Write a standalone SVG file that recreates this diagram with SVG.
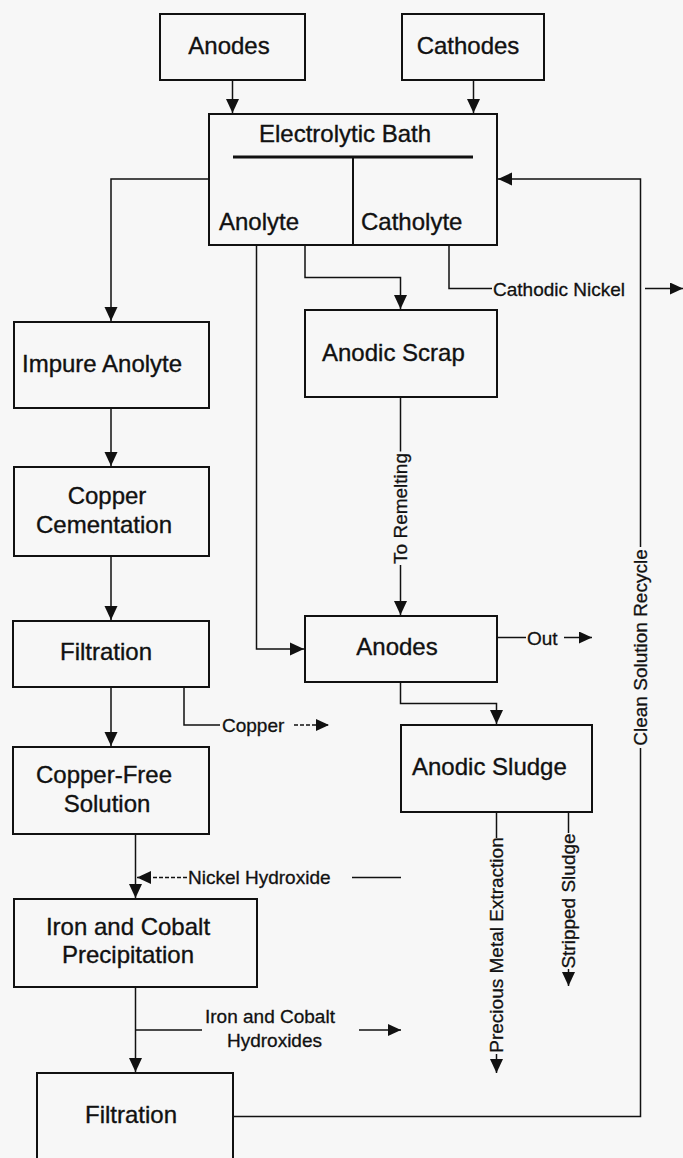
<svg xmlns="http://www.w3.org/2000/svg" width="683" height="1158" viewBox="0 0 683 1158">
<style>
.box{fill:none;stroke:#111;stroke-width:2}
.c{fill:none;stroke:#111;stroke-width:1.5}
.d{fill:none;stroke:#111;stroke-width:1.5;stroke-dasharray:4 2}
.t{font-family:"Liberation Sans",Arial,sans-serif;font-size:24px;fill:#111;stroke:#111;stroke-width:0.35}
.l{font-family:"Liberation Sans",Arial,sans-serif;font-size:19px;fill:#111;stroke:#111;stroke-width:0.3}
.m{text-anchor:middle}
</style>
<defs>
<marker id="ah" viewBox="0 0 14 14" refX="14" refY="7" markerWidth="14" markerHeight="14" markerUnits="userSpaceOnUse" orient="auto">
<path d="M0,0.5 L14,7 L0,13.5 z" fill="#111"/>
</marker>
<marker id="sm" viewBox="0 0 13 12" refX="13" refY="6" markerWidth="13" markerHeight="12" markerUnits="userSpaceOnUse" orient="auto">
<path d="M0,0 L13,6 L0,12 z" fill="#111"/>
</marker>
</defs>
<rect x="0" y="0" width="683" height="1158" fill="#f7f7f7"/>

<g id="anodes-top"><rect class="box" x="160" y="14" width="145" height="66"/><text class="t m" x="229" y="54">Anodes</text></g>
<g id="cathodes"><rect class="box" x="402" y="14" width="142" height="66"/><text class="t m" x="468" y="54">Cathodes</text></g>
<g id="bath">
<rect class="box" x="209" y="114" width="288" height="131"/>
<text class="t m" x="345" y="142">Electrolytic Bath</text>
<line x1="233" y1="157" x2="473" y2="157" stroke="#111" stroke-width="3"/>
<line x1="353" y1="157" x2="353" y2="245" stroke="#111" stroke-width="2"/>
<text class="t" x="219" y="230">Anolyte</text>
<text class="t" x="361" y="230">Catholyte</text>
</g>
<g id="impure-anolyte"><rect class="box" x="14" y="322" width="195" height="86"/><text class="t" x="22" y="372">Impure Anolyte</text></g>
<g id="copper-cementation"><rect class="box" x="14" y="467" width="195" height="89"/><text class="t m" x="107" y="504">Copper</text><text class="t m" x="104" y="533">Cementation</text></g>
<g id="filtration-1"><rect class="box" x="13" y="621" width="196" height="66"/><text class="t m" x="106" y="660">Filtration</text></g>
<g id="copper-free"><rect class="box" x="13" y="747" width="196" height="87"/><text class="t m" x="104" y="783">Copper-Free</text><text class="t m" x="107" y="812">Solution</text></g>
<g id="iron-cobalt"><rect class="box" x="14" y="899" width="243" height="88"/><text class="t m" x="128" y="935">Iron and Cobalt</text><text class="t m" x="128" y="963">Precipitation</text></g>
<g id="filtration-2"><rect class="box" x="37" y="1073" width="196" height="95"/><text class="t m" x="131" y="1123">Filtration</text></g>
<g id="anodic-scrap"><rect class="box" x="305" y="310" width="192" height="87"/><text class="t" x="322" y="361">Anodic Scrap</text></g>
<g id="anodes-mid"><rect class="box" x="305" y="616" width="192" height="66"/><text class="t m" x="397" y="655">Anodes</text></g>
<g id="anodic-sludge"><rect class="box" x="401" y="725" width="191" height="87"/><text class="t" x="412" y="775">Anodic Sludge</text></g>

<g id="connectors">
<path class="c" d="M232.5,80 V113" marker-end="url(#ah)"/>
<path class="c" d="M473.5,80 V113" marker-end="url(#ah)"/>
<path class="c" d="M209,179 H111 V321" marker-end="url(#ah)"/>
<path class="c" d="M256.5,245 V649 H304" marker-end="url(#ah)"/>
<path class="c" d="M305,245 V277.5 H400.5 V309" marker-end="url(#ah)"/>
<path class="c" d="M449,245 V288.5 H492"/>
<path class="c" d="M645,288.5 H683" marker-end="url(#sm)"/>
<text class="l" x="493" y="295.5">Cathodic Nickel</text>
<path class="c" d="M111,408 V466" marker-end="url(#ah)"/>
<path class="c" d="M111,556 V620" marker-end="url(#ah)"/>
<path class="c" d="M111,687 V746" marker-end="url(#ah)"/>
<path class="c" d="M184,687 V725 H220"/>
<path class="d" d="M294,725 H329" marker-end="url(#sm)"/>
<text class="l" x="222" y="732">Copper</text>
<path class="c" d="M135.5,834 V898" marker-end="url(#ah)"/>
<path class="d" d="M187,877.5 H137" marker-end="url(#ah)"/>
<text class="l" x="188" y="884">Nickel Hydroxide</text>
<path class="c" d="M352,877.5 H401"/>
<path class="c" d="M135.5,987 V1072" marker-end="url(#ah)"/>
<path class="c" d="M135.5,1030 H202"/>
<text class="l" x="205" y="1023">Iron  and Cobalt</text>
<text class="l m" x="274.5" y="1047">Hydroxides</text>
<path class="c" d="M359,1030 H401" marker-end="url(#sm)"/>
<path class="c" d="M233,1116.5 H640.5 V748"/>
<path class="c" d="M640.5,547 V179 H498" marker-end="url(#ah)"/>
<text class="l m" transform="translate(647,647.5) rotate(-90)">Clean Solution Recycle</text>
<path class="c" d="M400.5,397 V451.5"/>
<path class="c" d="M400.5,565 V615" marker-end="url(#ah)"/>
<text class="l m" transform="translate(407,508.5) rotate(-90)">To Remelting</text>
<path class="c" d="M497,637.5 H526"/>
<text class="l" x="527" y="644.5">Out</text>
<path class="c" d="M564,637.5 H592" marker-end="url(#sm)"/>
<path class="c" d="M400.5,682 V703.5 H496.5 V724" marker-end="url(#ah)"/>
<path class="c" d="M496.5,812 V838"/>
<text class="l m" transform="translate(503,945) rotate(-90)">Precious Metal Extraction</text>
<path class="c" d="M496.5,1054 V1073" marker-end="url(#ah)"/>
<path class="c" d="M568.5,812 V833"/>
<text class="l m" transform="translate(575,901) rotate(-90)">Stripped Sludge</text>
<path class="c" d="M568.5,969 V986" marker-end="url(#ah)"/>
</g>
</svg>
